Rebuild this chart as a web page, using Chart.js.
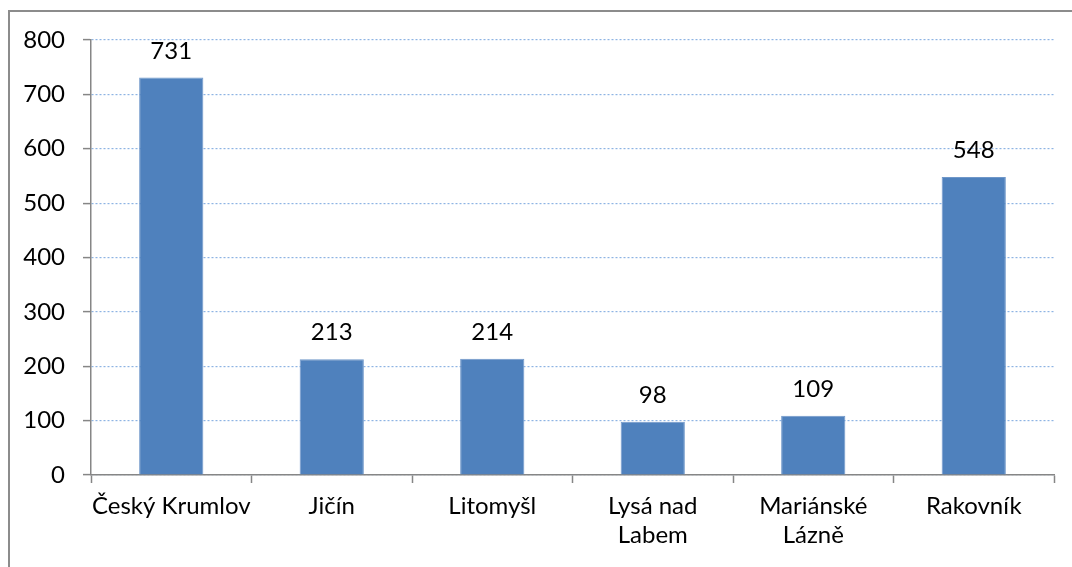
<!DOCTYPE html>
<html>
<head>
<meta charset="utf-8">
<script src="https://cdn.jsdelivr.net/npm/chart.js@4/dist/chart.umd.min.js"></script>
<style>
  html, body { margin: 0; padding: 0; background: #fff; }
  #wrap { position: relative; width: 1072px; height: 567px; overflow: hidden; }
  #frame { position: absolute; left: 8px; top: 10px; width: 1100px; height: 600px;
           border-left: 2px solid #8c8c8c; border-top: 2px solid #8c8c8c; }
  #canvas { position: absolute; left: 0; top: 0; }
</style>
</head>
<body>
<div id="wrap">
  <div id="frame"></div>
  <canvas id="canvas" width="1072" height="567"></canvas>
</div>
<script>
// data
var towns = ["Český Krumlov", "Jičín", "Litomyšl", ["Lysá nad", "Labem"], ["Mariánské", "Lázně"], "Rakovník"];
var counts = [731, 213, 214, 98, 109, 548];
var yTicks = [0, 100, 200, 300, 400, 500, 600, 700, 800];

var font = { family: "Lato, 'Open Sans', sans-serif", size: 24, lineHeight: 1.2 };

// values above the bars
var barLabels = {
  id: 'barLabels',
  afterDatasetsDraw: function(chart) {
    var ctx = chart.ctx;
    var meta = chart.getDatasetMeta(0);
    ctx.save();
    ctx.font = font.size + "px " + font.family;
    ctx.fillStyle = "#000";
    ctx.textAlign = "center";
    ctx.textBaseline = "alphabetic";
    meta.data.forEach(function(bar, i) {
      ctx.fillText(counts[i], bar.x, bar.y - 19);
    });
    ctx.restore();
  }
};

var ctx = document.getElementById('canvas').getContext('2d');
var config = {
  type: 'bar',
  data: {
    labels: towns,
    datasets: [{
      label: 'count',
      data: counts,
      backgroundColor: '#4f81bd',
      borderColor: '#6f97c9',
      borderWidth: 1,
      barPercentage: 0.4,
      categoryPercentage: 1
    }]
  },
  options: {
    responsive: false,
    animation: false,
    devicePixelRatio: 1,
    layout: { padding: { left: 0, top: 40, right: 18, bottom: 0 } },
    plugins: { legend: { display: false }, tooltip: { enabled: false } },
    scales: {
      x: {
        afterFit: function(scale) { scale.height = 92; },
        grid: { offset: true, drawOnChartArea: false, drawTicks: true, tickLength: 8, tickColor: '#868686', tickWidth: 1.5 },
        border: { color: '#868686', width: 1.5 },
        ticks: { color: '#000', font: font, padding: 9, maxRotation: 0, autoSkip: false }
      },
      y: {
        min: 0,
        max: 800,
        afterFit: function(scale) { scale.width = 91; },
        afterBuildTicks: function(scale) { scale.ticks = yTicks.map(function(v) { return { value: v }; }); },
        grid: { color: '#8eb4e3', lineWidth: 1.2, tickLength: 8, tickColor: '#868686', tickWidth: 1.5, tickBorderDash: [] },
        border: { color: '#868686', width: 1.5, dash: [2, 2] },
        ticks: { color: '#000', font: font, padding: 18 }
      }
    }
  },
  plugins: [barLabels]
};

var chart = new Chart(ctx, config);
</script>
</body>
</html>
